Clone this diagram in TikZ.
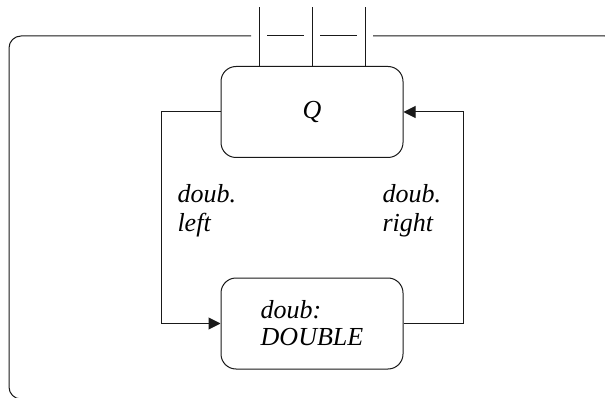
\documentclass[tikz,border=0pt]{standalone}
\usepackage{fontspec}
\setmainfont{Liberation Serif}
\usetikzlibrary{arrows.meta}
\begin{document}
\begin{tikzpicture}[x=1pt,y=-1pt,
  line width=1pt, draw={black!90},
  box/.style={draw, rounded corners=15pt, minimum width=182pt, minimum height=91pt, inner sep=0pt,
    font=\fontsize{26}{27}\selectfont\itshape, align=left},
  lbl/.style={font=\fontsize{26}{29}\selectfont\itshape, align=left, inner sep=0pt, anchor=north west},
  arr/.style={-{Triangle[length=12pt,width=12pt]}}]
\useasboundingbox (0,0) rectangle (605,398);
\clip (0,0) rectangle (605,398);
% outer frame
\draw[rounded corners=12pt] (251,36) -- (9,36) -- (9,399) -- (617,399) -- (617,36) -- (373,36);
\draw (267,36) -- (304,36);
\draw (320,36) -- (357,36);
% nodes
\node[box] (Q) at (312,112) {Q};
\node[box] (D) at (312,323.5) {doub:\\DOUBLE};
% top lines
\coordinate (t1) at (259,7);
\coordinate (t2) at (312,7);
\coordinate (t3) at (365,7);
\draw (Q.north -| t1) -- (t1);
\draw (Q.north) -- (t2);
\draw (Q.north -| t3) -- (t3);
% connectors
\coordinate (lc) at (161,112);
\coordinate (rc) at (463,112);
\draw[arr] (Q.west) -- (lc) |- (D.west);
\draw[arr] (D.east) -| (rc) -- (Q.east);
% labels
\node[lbl] (ll) at (177,184) {doub.\\left};
\node[lbl] (rl) at (382,184) {doub.\\right};
\end{tikzpicture}
\end{document}
